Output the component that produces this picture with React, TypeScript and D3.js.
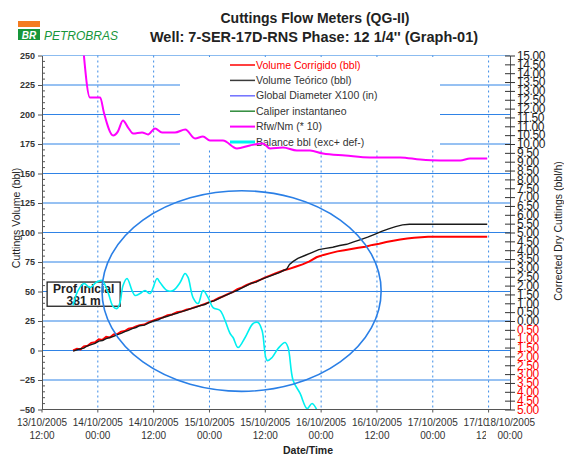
import React, { useEffect, useRef } from 'react';
import * as d3 from 'd3';

// time is kept as elapsed hours since 13/10/2005 12:00
const START = new Date(2005, 9, 13, 12, 0);
const AXIS_END_HOURS = 100.6;

const xTickHours = [0, 12, 24, 36, 48, 60, 72, 84, 96];
const xTickDates = ['13/10/2005', '14/10/2005', '14/10/2005', '15/10/2005', '15/10/2005', '16/10/2005', '16/10/2005', '17/10/2005', '17/10/2005'];
const xTickTimes = ['12:00', '00:00', '12:00', '00:00', '12:00', '00:00', '12:00', '00:00', '12:00'];
const xEndLabel = ['18/10/2005', '00:00'];

const leftTicks = [-50, -25, 0, 25, 50, 75, 100, 125, 150, 175, 200, 225, 250];

// Volume Corrigido (bbl)
const redHours = [6.7, 7.5, 8.3, 9.0, 9.8, 10.6, 11.4, 12.2, 13.0, 13.8, 14.6, 15.4, 16.2, 17.0, 17.8, 18.6, 19.4, 20.2, 21, 22, 23, 24, 25, 26, 27, 28, 29, 30, 31, 32, 33, 34, 35, 36, 37, 38, 39, 40, 41, 42, 43, 44, 45, 46, 47, 48, 49, 50, 51, 52, 53, 54.5, 56, 57.5, 59, 60.5, 62, 63.5, 65, 66.5, 68, 69.5, 71, 72.5, 74, 75.5, 77, 78.5, 80, 81.5, 83, 84.5, 86, 95.7];
const redValues = [0, 1.5, 1, 3.5, 4, 6.5, 7, 9.5, 9, 11.5, 11, 13.5, 14, 16, 16.5, 18.5, 19, 20.5, 21.5, 22, 24, 25.5, 27, 28, 30, 30.5, 32.5, 33, 34.5, 35.5, 37, 38, 39.5, 41, 42.5, 44.5, 46, 48, 49.5, 52, 53.5, 55.5, 57, 58.5, 60, 62, 63.5, 65, 66.5, 68, 69, 71, 73, 75.5, 79, 81, 82.5, 84, 85, 86, 87, 88, 89.5, 90.5, 92, 93, 94, 95, 95.5, 96, 96.5, 96.5, 96.5, 96.5];

// Volume Teórico (bbl)
const blackHours = [6.7, 7.5, 8.3, 9.0, 9.8, 10.6, 11.4, 12.2, 13.0, 13.8, 14.6, 15.4, 16.2, 17.0, 17.8, 18.6, 19.4, 20.2, 21, 22, 23, 24, 25, 26, 27, 28, 29, 30, 31, 32, 33, 34, 35, 36, 37, 38, 39, 40, 41, 42, 43, 44, 45, 46, 47, 48, 49, 50, 51, 52, 52.6, 53.2, 54, 55, 56.5, 58, 59.5, 61, 62.5, 64, 65.5, 67, 68.5, 70, 71.5, 73, 74.5, 76, 77.5, 79, 95.7];
const blackValues = [-0.5, 0.5, 1.5, 2, 4, 5, 6, 8, 8.5, 10, 11, 12, 13.5, 14.5, 16, 17, 18.5, 19.5, 21, 21.5, 23.5, 25, 26, 28, 29, 30.5, 31.5, 33, 34, 35.5, 36.5, 38, 39, 41, 42, 44, 46, 47.5, 49.5, 51, 53, 55, 57, 58, 60, 61.5, 63, 64.5, 66, 68, 69, 73, 75.5, 78, 80.5, 83, 85.5, 86.5, 87.5, 89, 90, 92, 94, 96, 98.5, 101, 103, 105, 106.5, 107, 107];

// Rfw/Nm (* 10), right axis
const rfwHours = [8.9, 10.3, 12.5, 13.3, 15.3, 16.3, 17.4, 18.5, 19.6, 21.5, 22.8, 24.3, 25.8, 28.6, 30.8, 32.9, 34.6, 36.1, 38.9, 41.9, 44.7, 47.5, 49.0, 51.8, 54.8, 57.6, 60.4, 65.2, 70.5, 77.0, 81.3, 85.6, 89.9, 92.0, 95.7];
const rfwValues = [15.3, 12.63, 12.63, 11.78, 10.48, 10.7, 11.33, 10.93, 10.59, 10.65, 10.54, 10.88, 10.65, 10.65, 10.82, 10.31, 10.42, 10.2, 10.2, 9.75, 9.92, 10.03, 9.75, 9.8, 9.63, 9.63, 9.46, 9.35, 9.24, 9.24, 9.12, 9.07, 9.07, 9.18, 9.18];

// Balance bbl (exc+ def-)
const balanceHours = [6.67, 7.74, 9.03, 10.32, 11.61, 12.9, 14.19, 15.27, 16.13, 16.77, 17.42, 18.28, 19.35, 20.0, 21.08, 22.15, 23.23, 24.73, 25.38, 26.88, 28.17, 29.68, 30.75, 31.4, 32.47, 33.55, 34.62, 35.7, 36.77, 38.28, 39.35, 40.43, 41.08, 42.15, 43.66, 45.38, 46.45, 47.31, 48.39, 49.46, 50.75, 52.26, 52.9, 53.98, 55.48, 56.99, 58.06, 59.14];
const balanceValues = [38.1, 50.8, 56.8, 53.4, 57.6, 59.3, 49.2, 37.3, 35.6, 40.7, 55.1, 61, 50.8, 46.6, 48.3, 50.8, 48.3, 61, 57.6, 50.8, 50.8, 57.6, 65.3, 61.9, 44.9, 39.8, 50.8, 44.9, 36.4, 33.9, 25.4, 14.4, 11, 2.5, 11, 22.9, 23.7, 16.9, -8.5, -5.9, 1.7, 6.8, 2.5, -25.4, -36.4, -49.2, -44.9, -50.8];

const legendLabels = ['Volume Corrigido (bbl)', 'Volume Teórico (bbl)', 'Global Diameter  X100 (in)', 'Caliper instantaneo', 'Rfw/Nm (* 10)', 'Balance bbl (exc+ def-)'];
const legendColors = ['#ff0000', '#3a3a3a', '#7070ff', '#2e8b3a', '#ff00ff', '#00f0f0'];
const legendWidths = [1.5, 1.5, 1.5, 1.5, 2, 3];

// annotation ellipse (hours / bbl) and the start-depth note
const ellipseCenter = [42.9, 50.4];
const ellipseRadius = [30, 85];
const profBox = [1.1, 16.8, 58, 37.5];

const FONT = "'Liberation Sans', Arial, sans-serif";
const hoursToDate = (h: number) => new Date(START.getTime() + h * 3600e3);

export default function App() {
  const ref = useRef<SVGSVGElement>(null);

  useEffect(() => {
    const svg = d3.select(ref.current);
    svg.selectAll('*').remove();

    const left = 42;
    const right = 510;
    const top = 55.5;
    const bottom = 409.5;

    const x = d3.scaleTime().domain([START, hoursToDate(AXIS_END_HOURS)]).range([left, right]);
    const yL = d3.scaleLinear().domain([-50, 250]).range([bottom, top]);
    const yR = d3.scaleLinear().domain([-5, 15]).range([bottom, top]);

    svg.append('defs').append('clipPath').attr('id', 'plot-clip')
      .append('rect').attr('x', left).attr('y', top).attr('width', right - left).attr('height', bottom - top);

    // Header: logo and titles
    svg.append('rect').attr('x', 18).attr('y', 21).attr('width', 22).attr('height', 6).attr('fill', '#f47b20');
    svg.append('rect').attr('x', 18).attr('y', 29).attr('width', 22).attr('height', 11).attr('fill', '#17963a');
    svg.append('text').attr('x', 29).attr('y', 38.5).attr('text-anchor', 'middle')
      .attr('font-family', FONT).attr('font-size', 10).attr('font-weight', 'bold').attr('font-style', 'italic')
      .attr('fill', '#fff').text('BR');
    svg.append('text').attr('x', 44).attr('y', 39.5)
      .attr('font-family', FONT).attr('font-size', 12).attr('font-style', 'italic')
      .attr('fill', '#17963a').text('PETROBRAS');

    svg.append('text').attr('x', 315).attr('y', 23).attr('text-anchor', 'middle')
      .attr('font-family', FONT).attr('font-size', 14).attr('font-weight', 'bold').attr('fill', '#222')
      .text('Cuttings Flow Meters (QG-II)');
    svg.append('text').attr('x', 314).attr('y', 42).attr('text-anchor', 'middle')
      .attr('font-family', FONT).attr('font-size', 14.5).attr('font-weight', 'bold').attr('fill', '#222')
      .text("Well: 7-SER-17D-RNS Phase: 12 1/4'' (Graph-01)");

    // Grid
    const grid = svg.append('g');
    grid.selectAll('line.h')
      .data(leftTicks.filter(t => t > -50))
      .enter().append('line')
      .attr('x1', left).attr('x2', right)
      .attr('y1', d => yL(d)).attr('y2', d => yL(d))
      .attr('stroke', d => (d === 250 ? '#8cbcf0' : '#2f83e6'))
      .attr('stroke-width', 1);
    grid.selectAll('line.v')
      .data(xTickHours.slice(1))
      .enter().append('line')
      .attr('x1', d => x(hoursToDate(d))).attr('x2', d => x(hoursToDate(d)))
      .attr('y1', top).attr('y2', bottom)
      .attr('stroke', '#3b8be6')
      .attr('stroke-dasharray', '2,3');

    // Legend (white box hides the grid behind it)
    svg.append('rect').attr('x', 180).attr('y', 57).attr('width', 260).attr('height', 93).attr('fill', '#fff');
    const legend = svg.append('g')
      .selectAll('g')
      .data(legendLabels)
      .enter().append('g')
      .attr('transform', (d, i) => `translate(230,${65 + i * 15.4})`);
    legend.append('line')
      .attr('x1', 0).attr('x2', 25)
      .attr('stroke', (d, i) => legendColors[i])
      .attr('stroke-width', (d, i) => legendWidths[i]);
    legend.append('text')
      .attr('x', 26).attr('dy', '0.35em')
      .attr('font-family', FONT).attr('font-size', 10.5)
      .attr('fill', (d, i) => (i === 0 ? '#ff0000' : '#333'))
      .text(d => d);

    // Start-depth note
    const bx = x(hoursToDate(profBox[0]));
    const bw = x(hoursToDate(profBox[1])) - bx;
    const by = yL(profBox[2]);
    const bh = yL(profBox[3]) - by;
    svg.append('rect').attr('x', bx).attr('y', by).attr('width', bw).attr('height', bh)
      .attr('fill', '#fff').attr('stroke', '#222').attr('stroke-width', 1.3);
    svg.append('text').attr('x', bx + bw / 2).attr('y', by + 10.5).attr('text-anchor', 'middle')
      .attr('font-family', FONT).attr('font-size', 12).attr('font-weight', 'bold').attr('fill', '#222')
      .text('Prof Inicial');
    svg.append('text').attr('x', bx + bw / 2).attr('y', by + 22.5).attr('text-anchor', 'middle')
      .attr('font-family', FONT).attr('font-size', 12).attr('font-weight', 'bold').attr('fill', '#222')
      .text('381 m');

    // Series
    const plot = svg.append('g').attr('clip-path', 'url(#plot-clip)');
    const lineL = d3.line<[number, number]>()
      .x(d => x(hoursToDate(d[0])))
      .y(d => yL(d[1]));
    const lineR = d3.line<[number, number]>()
      .x(d => x(hoursToDate(d[0])))
      .y(d => yR(d[1]));

    plot.append('path')
      .datum(redHours.map((h, i) => [h, redValues[i]] as [number, number]))
      .attr('d', lineL).attr('fill', 'none').attr('stroke', '#ff0000').attr('stroke-width', 2);
    plot.append('path')
      .datum(blackHours.map((h, i) => [h, blackValues[i]] as [number, number]))
      .attr('d', lineL).attr('fill', 'none').attr('stroke', '#1a1a1a').attr('stroke-width', 1.4);
    plot.append('path')
      .datum(rfwHours.map((h, i) => [h, rfwValues[i]] as [number, number]))
      .attr('d', lineR.curve(d3.curveMonotoneX)).attr('fill', 'none').attr('stroke', '#ff00ff').attr('stroke-width', 2);
    plot.append('path')
      .datum(balanceHours.map((h, i) => [h, balanceValues[i]] as [number, number]))
      .attr('d', lineL.curve(d3.curveCatmullRom)).attr('fill', 'none').attr('stroke', '#00f0f0').attr('stroke-width', 1.6);

    // Ellipse annotation
    const ecx = x(hoursToDate(ellipseCenter[0]));
    const ecy = yL(ellipseCenter[1]);
    svg.append('ellipse')
      .attr('cx', ecx).attr('cy', ecy)
      .attr('rx', x(hoursToDate(ellipseCenter[0] + ellipseRadius[0])) - ecx)
      .attr('ry', ecy - yL(ellipseCenter[1] + ellipseRadius[1]))
      .attr('fill', 'none').attr('stroke', '#2a7fe6').attr('stroke-width', 1.6);

    // Left axis
    const leftAxis = svg.append('g')
      .attr('transform', `translate(${left},0)`)
      .call(d3.axisLeft(yL).tickValues(leftTicks).tickSize(4).tickSizeOuter(0).tickPadding(3).tickFormat(d3.format('d')));
    leftAxis.select('.domain').attr('stroke', '#555');
    leftAxis.selectAll('.tick line').attr('stroke', '#555');
    leftAxis.selectAll('.tick text')
      .attr('font-family', FONT).attr('font-size', 9).attr('font-weight', 'bold').attr('fill', '#333');
    svg.append('g').selectAll('line')
      .data(d3.range(-50, 251, 5).filter(v => v % 25 !== 0))
      .enter().append('line')
      .attr('x1', left).attr('x2', left + 3)
      .attr('y1', d => yL(d)).attr('y2', d => yL(d))
      .attr('stroke', '#555');

    // Right axis: negatives shown in red without sign
    const rightTicks = d3.range(-5, 15.25, 0.5);
    const rightAxis = svg.append('g')
      .attr('transform', `translate(${right},0)`)
      .call(d3.axisRight(yR).tickValues(rightTicks).tickSize(5).tickSizeOuter(0).tickPadding(2)
        .tickFormat(d => Math.abs(+d).toFixed(2)));
    rightAxis.select('.domain').attr('stroke', '#555');
    rightAxis.selectAll('.tick line').attr('stroke', '#333').attr('x1', -5);
    rightAxis.selectAll('.tick text')
      .attr('font-family', FONT).attr('font-size', 12).attr('letter-spacing', -0.4)
      .attr('fill', (d: any) => (d < 0 ? '#ff0000' : '#222'));

    // Bottom axis
    svg.append('line').attr('x1', left).attr('x2', right).attr('y1', bottom).attr('y2', bottom).attr('stroke', '#555');
    const xt = svg.append('g').selectAll('g')
      .data(xTickHours)
      .enter().append('g')
      .attr('transform', d => `translate(${x(hoursToDate(d))},0)`);
    xt.append('line').attr('y1', bottom).attr('y2', bottom + 3).attr('stroke', '#555');
    xt.append('text').attr('y', 426).attr('text-anchor', 'middle')
      .attr('font-family', FONT).attr('font-size', 10).attr('fill', '#333')
      .text((d, i) => xTickDates[i]);
    xt.append('text').attr('y', 439).attr('text-anchor', 'middle')
      .attr('font-family', FONT).attr('font-size', 10).attr('fill', '#333')
      .text((d, i) => xTickTimes[i]);
    const endX = x(hoursToDate(AXIS_END_HOURS));
    svg.append('rect').attr('x', endX - 24).attr('y', 416).attr('width', 48).attr('height', 27).attr('fill', '#fff');
    svg.append('text').attr('x', endX).attr('y', 426).attr('text-anchor', 'middle')
      .attr('font-family', FONT).attr('font-size', 10).attr('fill', '#333').text(xEndLabel[0]);
    svg.append('text').attr('x', endX).attr('y', 439).attr('text-anchor', 'middle')
      .attr('font-family', FONT).attr('font-size', 10).attr('fill', '#333').text(xEndLabel[1]);

    // Axis titles
    svg.append('text').attr('x', 308).attr('y', 454).attr('text-anchor', 'middle')
      .attr('font-family', FONT).attr('font-size', 10.5).attr('font-weight', 'bold').attr('fill', '#222')
      .text('Date/Time');
    svg.append('text').attr('transform', 'translate(20,218) rotate(-90)').attr('text-anchor', 'middle')
      .attr('font-family', FONT).attr('font-size', 10.5).attr('fill', '#222')
      .text('Cuttings Volume (bbl)');
    svg.append('text').attr('transform', 'translate(562,231) rotate(-90)').attr('text-anchor', 'middle')
      .attr('font-family', FONT).attr('font-size', 10.5).attr('fill', '#222')
      .text('Corrected Dry Cuttings (bbl/h)');
  }, []);

  return (
    <div style={{ position: 'absolute', left: 0, top: 0 }}>
      <svg ref={ref} width={564} height={457} style={{ display: 'block', background: '#fff' }} />
    </div>
  );
}
